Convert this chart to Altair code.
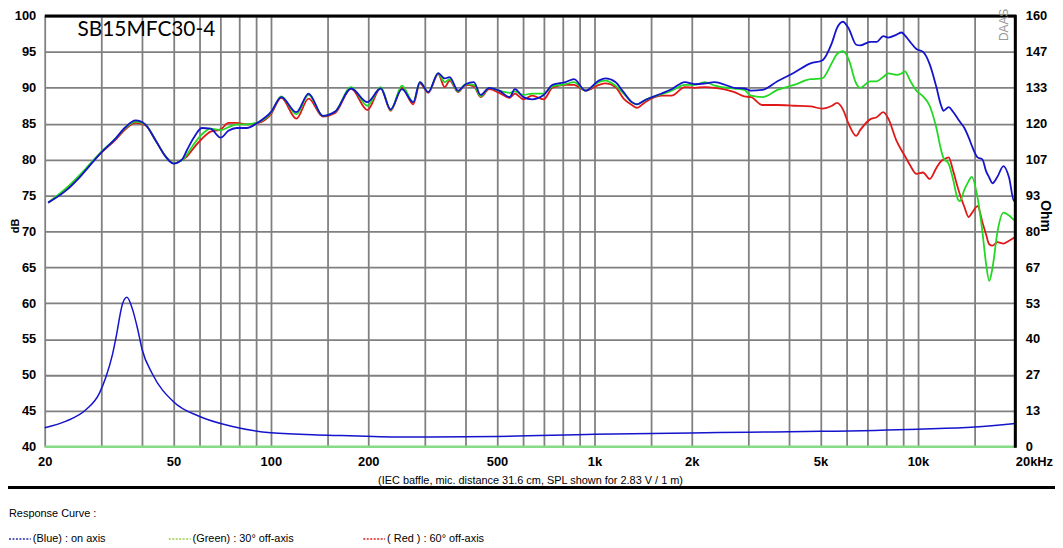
import altair as alt
import pandas as pd

# ---------------- data ----------------
freq_spl = [20.5, 23.3, 25.6, 29.5, 33.2, 35.5, 38.2, 40.9, 44.0, 47.2, 50.0, 53.1, 55.0, 57.7,
            61.2, 65.1, 70.0, 73.9, 78.3, 84.1, 91.5, 100, 107.7, 119.9, 130.8, 144.7, 158.1,
            176.9, 198.8, 218.6, 234.5, 254.2, 275.6, 288.8, 306.7, 329, 344.6, 357, 379, 400,
            424, 445, 473, 508, 547, 568, 603, 642, 697, 742, 815, 865, 939, 1032, 1082, 1161,
            1231, 1306, 1354, 1435, 1614, 1732, 1904, 2043, 2192, 2354, 2710, 2908, 3048, 3309,
            3679, 4140, 4659, 5056, 5426, 5620, 5864, 6104, 6446, 6630, 7116, 7456, 7816, 8100,
            8590, 8898, 9114, 9460, 9894, 10372, 10872, 11390, 11800, 12000, 12450, 12820,
            13280, 13470, 13920, 14350, 14660, 15290, 15840, 16210, 16610, 17000, 17610,
            18380, 19130, 19820, 20000]

spl_blue = [74.0, 75.7, 77.5, 80.7, 83.0, 84.5, 85.45, 84.9, 82.7, 80.45, 79.45, 80.0, 81.3, 83.0,
            84.4, 84.3, 83.05, 84.0, 84.4, 84.4, 85.2, 86.6, 88.7, 86.6, 89.2, 86.1, 86.7,
            89.9, 88.0, 89.9, 87.0, 89.8, 88.0, 90.8, 89.4, 92.05, 91.3, 91.5, 89.6, 90.5,
            90.8, 89.0, 90.0, 89.6, 88.7, 89.8, 88.7, 88.4, 89.0, 90.4, 90.8, 91.2, 89.6, 91.0, 91.3, 90.8,
            89.4, 88.0, 87.7, 88.3, 89.2, 89.8, 90.8, 90.5, 90.6, 90.8, 90.0, 89.9, 89.6, 89.7,
            90.9, 92.1, 93.4, 93.8, 96.3, 98.3, 99.2, 98.3, 96.0, 95.9, 96.4, 96.4, 97.2, 97.0,
            97.4, 97.7, 97.3, 96.4, 95.4, 95.0, 93.3, 90.2, 87.5, 86.8, 87.3, 86.7,
            85.7, 85.3, 84.4, 83.1, 82.0, 80.3, 80.0, 78.5, 77.5, 76.7, 77.6,
            79.1, 77.5, 74.2, 75.2]

spl_green = [74.0, 76.0, 77.8, 80.8, 83.0, 84.4, 85.3, 84.9, 82.7, 80.5, 79.5, 79.9, 80.7, 82.1,
             83.5, 84.3, 84.1, 84.5, 84.9, 84.9, 85.2, 86.5, 88.8, 86.3, 89.0, 86.1, 86.7,
             90.1, 87.5, 90.1, 86.9, 90.3, 88.0, 90.8, 89.4, 92.0, 90.8, 91.2, 89.5, 90.5,
             90.4, 88.8, 90.0, 89.6, 89.3, 89.5, 89.0, 89.2, 89.2, 90.2, 90.5, 90.8, 89.6, 90.8, 91.0, 90.3,
             89.2, 88.0, 87.7, 88.3, 89.1, 89.6, 90.4, 90.4, 90.8, 90.3, 89.9, 89.7, 88.9, 88.7,
             89.7, 90.4, 91.2, 91.3, 93.5, 94.7, 95.1, 94.0, 90.6, 90.0, 90.9, 90.9, 91.5, 92.0,
             91.8, 92.0, 92.3, 91.0, 89.6, 88.8, 87.5, 84.5, 81.3, 80.2, 79.4, 77.4,
             74.5, 74.2, 75.8, 77.0, 77.6, 74.7, 69.8, 65.8, 63.1, 64.9, 69.9,
             72.6, 72.2, 71.6, 71.5]

spl_red = [74.0, 75.9, 77.7, 80.7, 82.8, 84.2, 85.1, 84.8, 82.7, 80.5, 79.5, 79.9, 80.4, 81.6,
           82.9, 83.9, 84.2, 85.1, 85.1, 84.9, 85.1, 86.3, 88.6, 85.7, 88.5, 86.0, 86.5,
           89.9, 86.9, 90.0, 86.8, 90.0, 87.7, 90.6, 89.3, 91.9, 90.1, 91.0, 89.4, 90.4,
           90.2, 88.7, 89.8, 89.3, 88.6, 89.2, 88.4, 88.9, 88.4, 90.0, 90.4, 90.4, 89.6, 90.4, 90.6, 90.1,
           88.5, 87.6, 87.2, 88.0, 88.9, 88.9, 90.1, 90.0, 90.1, 90.0, 89.4, 88.8, 88.7, 87.6,
           87.6, 87.5, 87.4, 87.1, 87.5, 87.9, 87.0, 85.0, 83.3, 84.1, 85.6, 85.9, 86.6, 85.7,
           82.6, 81.3, 80.5, 79.2, 78.0, 78.2, 77.3, 78.8, 79.8, 80.0, 80.3, 78.6,
           76.1, 75.2, 73.4, 72.0, 72.5, 73.5, 71.2, 69.7, 68.2, 68.0, 68.5,
           68.3, 68.7, 69.1, 69.2]

freq_imp = [20, 23.3, 26.8, 29.5, 30.9, 32.4, 33.2, 34.8, 35.9, 37.3, 38.7, 40, 43, 50, 60, 75.5,
            100, 150, 245, 500, 1000, 1500, 2000, 3000, 5000, 10000, 15000, 20000]
imp_blue = [7.05, 9.5, 13.7, 19.8, 25.8, 34.3, 40.4, 53.1, 55.5, 51.3, 44.0, 36.1, 27.1, 16.7, 11.3, 7.6,
            5.2, 4.3, 3.6, 3.8, 4.6, 4.9, 5.1, 5.4, 5.7, 6.5, 7.3, 8.6]
freq_imp_green = [20, 20000]
imp_green = [0.0, 0.0]

x_grid = [20, 30, 40, 50, 60, 70, 80, 90, 100, 150, 200, 300, 400, 500, 600, 700, 800, 900,
          1000, 1500, 2000, 3000, 4000, 5000, 6000, 7000, 8000, 9000, 10000, 15000, 20000]
x_label_values = [20, 50, 100, 200, 500, 1000, 2000, 5000, 10000, 20000]
x_label_texts = ["20", "50", "100", "200", "500", "1k", "2k", "5k", "10k", "20kHz"]
db_ticks = [40, 45, 50, 55, 60, 65, 70, 75, 80, 85, 90, 95, 100]
ohm_ticks = [i * 160 / 12 for i in range(13)]

series_names = ["( Red ) : 60° off-axis", "(Green) : 30° off-axis", "(Blue)  : on axis"]
series_colors = ["#e01818", "#22d822", "#1414cc"]

title_text = "SB15MFC30-4"
subtitle_text = "(IEC baffle, mic. distance 31.6 cm, SPL shown for 2.83 V / 1 m)"

# ---------------- tables ----------------
rows = []
for name, vals in zip(series_names, [spl_red, spl_green, spl_blue]):
    for f, v in zip(freq_spl, vals):
        rows.append({"freq": f, "db": v, "series": name})
spl_df = pd.DataFrame(rows)

imp_rows = [{"freq": f, "ohm": v, "series": "imp_green"} for f, v in zip(freq_imp_green, imp_green)]
imp_rows += [{"freq": f, "ohm": v, "series": "imp_blue"} for f, v in zip(freq_imp, imp_blue)]
imp_df = pd.DataFrame(imp_rows)

W, H = 978, 434
FONT = "Liberation Sans"
GRID = "#808080"

label_expr = " : ".join(f"datum.value == {v} ? '{t}'" for v, t in zip(x_label_values, x_label_texts)) + " : ''"

x_enc = alt.X(
    "freq:Q",
    scale=alt.Scale(type="log", domain=[20, 20000], nice=False),
    axis=alt.Axis(
        values=x_grid, labelExpr=label_expr, grid=True, gridColor=GRID, gridWidth=1.8,
        ticks=False, domain=False, labelOverlap=False, labelFont=FONT, labelFontSize=13,
        labelFontWeight="bold", labelColor="black", labelPadding=9,
        labelAlign=alt.condition("datum.value == 20000", alt.value("left"), alt.value("center")),
        title=subtitle_text, titleFont=FONT, titleFontSize=11, titleFontWeight="normal",
        titleColor="black", titleY=34, titleBaseline="middle",
    ),
)

spl = alt.Chart(spl_df).mark_line(strokeWidth=1.8, interpolate="monotone").encode(
    x=x_enc,
    y=alt.Y(
        "db:Q",
        scale=alt.Scale(domain=[40, 100], nice=False, zero=False),
        axis=alt.Axis(
            values=db_ticks, grid=True, gridColor=GRID, gridWidth=1.8, ticks=False, domain=False,
            labelFont=FONT, labelFontSize=13, labelFontWeight="bold", labelColor="black",
            labelPadding=9, title="dB", titleFont=FONT, titleFontSize=11, titleFontWeight="bold",
            titleColor="black", titleAngle=270, titleX=-29, titleY=211, titleAlign="center",
            titleBaseline="middle",
        ),
    ),
    color=alt.Color("series:N", scale=alt.Scale(domain=series_names, range=series_colors), legend=None),
    order=alt.Order("series_order:Q"),
    detail="series:N",
).transform_calculate(
    series_order=f"indexof({series_names!r}, datum.series)"
)

imp = alt.Chart(imp_df).mark_line(interpolate="monotone").encode(
    x=x_enc,
    y=alt.Y(
        "ohm:Q",
        scale=alt.Scale(domain=[0, 160], nice=False),
        axis=alt.Axis(
            orient="right", values=ohm_ticks, labelExpr="'' + round(datum.value)", grid=False,
            ticks=False, domain=False, labelFont=FONT, labelFontSize=13, labelFontWeight="bold",
            labelColor="black", labelPadding=10, title="Ohm", titleFont=FONT, titleFontSize=14,
            titleFontWeight="bold", titleColor="black", titleAngle=90, titleX=29, titleY=201,
            titleAlign="center", titleBaseline="middle",
        ),
    ),
    color=alt.Color("series:N", scale=alt.Scale(domain=["imp_green", "imp_blue"], range=["#86dc86", "#1414cc"]), legend=None),
    strokeWidth=alt.StrokeWidth("series:N", scale=alt.Scale(domain=["imp_green", "imp_blue"], range=[2.6, 1.5]), legend=None),
)

# ---------------- frame and annotations ----------------
top_border = alt.Chart().mark_rule(color="black", strokeWidth=3).encode(
    x=alt.value(0), x2=alt.value(W + 1), y=alt.value(0))
right_border = alt.Chart().mark_rule(color="black", strokeWidth=3).encode(
    x=alt.value(W), y=alt.value(-1), y2=alt.value(H + 1))
separator = alt.Chart().mark_rule(color="black", strokeWidth=3).encode(
    x=alt.value(-37), x2=alt.value(W + 40), y=alt.value(475))

title = alt.Chart().mark_text(text=title_text, font="Lato", fontSize=21, align="left",
                              baseline="middle", color="black").encode(
    x=alt.value(33), y=alt.value(14))
watermark = alt.Chart().mark_text(text="DAAS", font=FONT, fontSize=12, angle=270, align="center",
                                  baseline="middle", color="#9a9a9a").encode(
    x=alt.value(967), y=alt.value(9))

resp = alt.Chart().mark_text(text="Response Curve :", font=FONT, fontSize=11, align="left",
                             baseline="middle", color="black").encode(
    x=alt.value(-36), y=alt.value(502))

legend_x = [-36, 125, 321]
legend_labels = ["(Blue)  : on axis", "(Green) : 30° off-axis", "( Red ) : 60° off-axis"]
legend_colors = ["#2828a8", "#9ccc44", "#dd2020"]
legend_layers = []
for lx, lt, lc in zip(legend_x, legend_labels, legend_colors):
    legend_layers.append(
        alt.Chart().mark_rule(color=lc, strokeWidth=1.5, strokeDash=[2, 1.5]).encode(
            x=alt.value(lx), x2=alt.value(lx + 22), y=alt.value(527)))
    legend_layers.append(
        alt.Chart().mark_text(text=lt, font=FONT, fontSize=11, align="left", baseline="middle",
                              color="black").encode(x=alt.value(lx + 24), y=alt.value(527)))

chart = alt.layer(
    spl, imp, top_border, right_border, separator, title, watermark, resp, *legend_layers
).resolve_scale(
    y="independent", color="independent"
).properties(
    width=W, height=H,
    padding={"left": 37, "top": 6, "right": 40, "bottom": 100},
    autosize=alt.AutoSizeParams(type="none"),
    background="white",
).configure_view(stroke=None)

chart.save("out.html", embed_options={"renderer": "svg", "actions": False})
